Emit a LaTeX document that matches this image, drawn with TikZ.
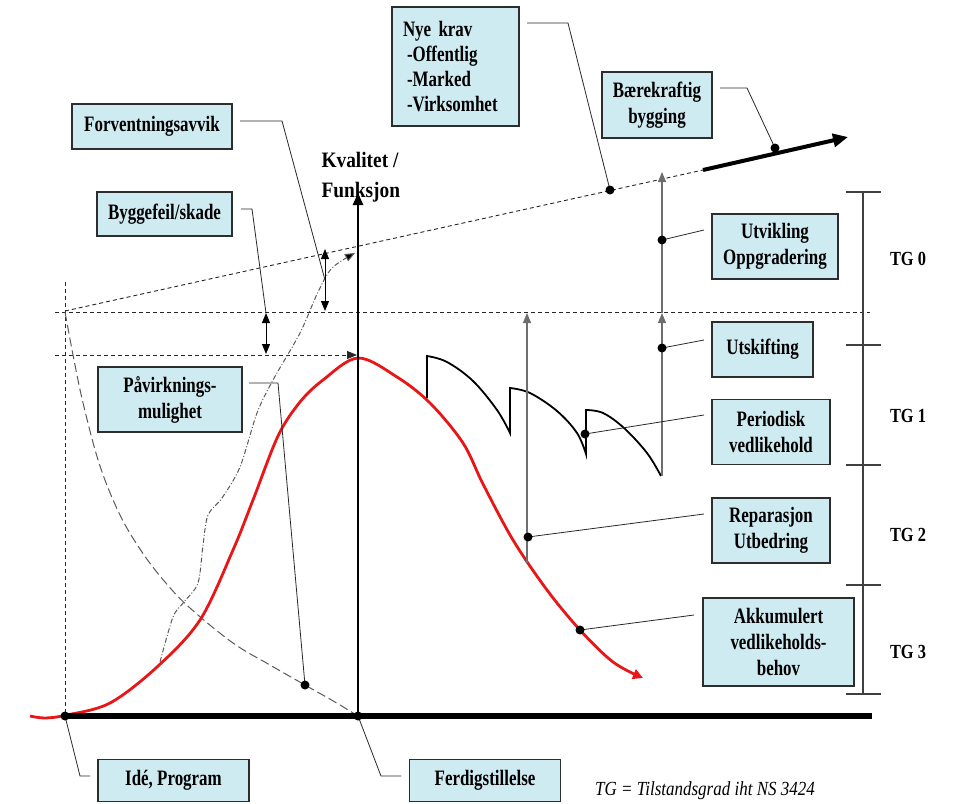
\documentclass[tikz,border=0pt]{standalone}
\usepackage{fontspec}
\setmainfont{Liberation Serif}
\newfontfamily\boxfont{Liberation Serif}[FakeStretch=0.77]
\newfontfamily\axisfont{Liberation Serif}[FakeStretch=0.88]
\newfontfamily\tgfont{Liberation Serif}[FakeStretch=0.82]
\newfontfamily\notefont{Liberation Serif}[FakeStretch=0.85]
\usetikzlibrary{arrows.meta}

\definecolor{boxfill}{RGB}{207,235,242}
\definecolor{boxline}{RGB}{45,45,45}
\definecolor{leadcol}{RGB}{40,40,40}
\definecolor{curvered}{RGB}{232,22,22}
\definecolor{greyline}{RGB}{110,110,110}
\definecolor{softgrey}{RGB}{90,90,90}

\tikzset{
  infobox/.style={draw=boxline, fill=boxfill, line width=1.1pt, align=center,
    inner sep=0pt, font=\boxfont\bfseries\fontsize{22}{26}\selectfont},
  leaderline/.style={draw=leadcol, line width=0.8pt},
  refdash/.style={draw=black!85, line width=0.9pt, dash pattern=on 4pt off 3pt},
  smalltip/.style={-{Triangle[length=10pt,width=8pt]}},
  bothtips/.style={{Triangle[length=10pt,width=8pt]}-{Triangle[length=10pt,width=8pt]}},
  riseline/.style={draw=greyline, line width=1.2pt, -{Triangle[length=10pt,width=8pt]}},
  tglabel/.style={font=\tgfont\bfseries\fontsize{20}{23}\selectfont},
  tgline/.style={draw=black!75, line width=1.1pt},
  sawline/.style={draw=black, line width=1.8pt, line join=miter},
}

\begin{document}
\begin{tikzpicture}[x=1pt,y=-1pt]
\useasboundingbox (0,0) rectangle (960,803);

% ---------- reference levels ----------
\coordinate (lvlA) at (55,312);
\coordinate (lvlAend) at (870,312);
\coordinate (lvlB) at (55,355);
\coordinate (lvlBend) at (357,355);
\coordinate (startTop) at (65,282);
\coordinate (origin) at (65,716);
\coordinate (handover) at (358,716);
\coordinate (trendstart) at (65,311);
\coordinate (trendend) at (703,170);
\coordinate (trendtip) at (848,137);

\draw[refdash] (lvlA) -- (lvlAend);
\draw[refdash, smalltip] (lvlB) -- (lvlBend);
\draw[refdash] (startTop) -- (origin);
\draw[refdash] (trendstart) -- (trendend);
\draw[line width=4pt, -{Triangle[length=15pt,width=13pt]}] (trendend) -- (trendtip);

% ---------- influence curve (long dashes) ----------
\draw[softgrey, line width=1pt, dash pattern=on 9pt off 4pt]
  plot[smooth, tension=0.6] coordinates {(65,312) (74,360) (84,407) (100,466) (120,515)
    (142,552) (165,582) (190,608) (233,643) (270,665) (305,685) (335,702) (358,716)};

% ---------- expectation curve (dash-dot) ----------
\draw[softgrey, line width=1pt, dash pattern=on 5pt off 2pt on 1pt off 2pt,
      -{Triangle[length=10pt,width=8pt,fill=black]}]
  plot[smooth, tension=0.5] coordinates {(160,662) (173,617) (184,602) (198,583)
    (203,545) (208,515) (222,498) (240,467) (257,413) (273,380) (300,333) (318,292)
    (332,268) (355,253)};

% ---------- main quality curve ----------
\draw[curvered, line width=2.8pt, -{Triangle[length=10pt,width=10pt]}]
  plot[smooth, tension=0.55] coordinates {(30,716) (45,718) (67,715) (110,703)
    (157,667) (200,620) (233,550) (253,500) (278,436) (300,402) (323,380) (358,358)
    (397,377) (430,403) (463,443) (483,484) (513,540) (547,590) (580,630) (613,662)
    (643,678)};

% ---------- periodic maintenance (sawtooth) ----------
\draw[sawline] (427,398) -- (427,356)
  -- plot[smooth, tension=0.6] coordinates {(427,356) (447,362) (473,381) (497,410) (510,433)}
  -- (510,388)
  -- plot[smooth, tension=0.6] coordinates {(510,388) (530,393) (557,411) (577,433) (586,454)}
  -- (586,410)
  -- plot[smooth, tension=0.6] coordinates {(586,410) (603,413) (624,428) (647,453) (661,476)};

% ---------- measures raising the level ----------
\coordinate (repBase) at (527,563);
\coordinate (repTop) at (527,313);
\coordinate (upBase) at (662,476);
\coordinate (upMid) at (662,313);
\coordinate (upTop) at (662,172);
\draw[riseline] (repBase) -- (repTop);
\draw[riseline] (upBase) -- (upMid);
\draw[riseline] (upMid) -- (upTop);

% ---------- deviation arrows ----------
\coordinate (errTop) at (266,313);
\coordinate (errBot) at (266,354);
\coordinate (devTop) at (325,249);
\coordinate (devBot) at (325,311);
\draw[line width=1pt, bothtips] (errTop) -- (errBot);
\draw[line width=1pt, bothtips] (devTop) -- (devBot);

% ---------- axes ----------
\node[font=\axisfont\bfseries\fontsize{22}{30}\selectfont, align=left, anchor=west]
  (axislabel) at (318,177) {Kvalitet /\\Funksjon};
\draw[line width=5.5pt] (origin) -- (872,716);
\draw[line width=2.6pt, -{Triangle[length=12pt,width=10pt]}] (handover) -- (358,193);

% ---------- condition grade scale ----------
\draw[tgline] (863,192) -- (863,694);
\foreach \yy in {192,345,465,585,694} \draw[tgline] (846,\yy) -- (881,\yy);
\node[tglabel] (tg0) at (908,259) {TG 0};
\node[tglabel] (tg1) at (908,416) {TG 1};
\node[tglabel] (tg2) at (908,535) {TG 2};
\node[tglabel] (tg3) at (908,652) {TG 3};

% ---------- text boxes ----------
\node[infobox, minimum width=160pt, minimum height=45pt] (forv) at (152,126.5) {Forventningsavvik};
\node[infobox, minimum width=135pt, minimum height=44pt] (bygg) at (164.5,214) {Byggefeil/skade};
\node[infobox, minimum width=144pt, minimum height=65pt] (pav) at (170,399.5) {Påvirknings-\\mulighet};
\node[infobox, align=left, text width=105pt, inner xsep=11pt, minimum height=119pt,
      font=\boxfont\bfseries\fontsize{22}{25}\selectfont] (nye) at (455.5,66.5)
  {Nye krav\\\hspace*{4pt}-Offentlig\\\hspace*{4pt}-Marked\\\hspace*{4pt}-Virksomhet};
\node[infobox, minimum width=110pt, minimum height=66pt] (baer) at (657,105) {Bærekraftig\\bygging};
\node[infobox, minimum width=126pt, minimum height=65pt] (utv) at (775,246.5) {Utvikling\\Oppgradering};
\node[infobox, minimum width=101pt, minimum height=55pt] (utsk) at (762.5,349.5) {Utskifting};
\node[infobox, minimum width=118pt, minimum height=65pt] (per) at (771,432) {Periodisk\\vedlikehold};
\node[infobox, minimum width=118pt, minimum height=65pt] (rep) at (771,530.5) {Reparasjon\\Utbedring};
\node[infobox, minimum width=151pt, minimum height=88pt] (akk) at (778.5,642) {Akkumulert\\vedlikeholds-\\behov};
\node[infobox, minimum width=151pt, minimum height=42pt] (ide) at (173.5,780.5) {Idé, Program};
\node[infobox, minimum width=151pt, minimum height=42pt] (ferd) at (485,780.5) {Ferdigstillelse};

\node[font=\notefont\itshape\fontsize{20}{24}\selectfont] (note) at (705,791)
  {TG = Tilstandsgrad iht NS 3424};

% ---------- leader lines and their points ----------
\coordinate (forvA) at (240,121);  \coordinate (forvB) at (282,121);  \coordinate (forvP) at (325,280);
\coordinate (byggA) at (241,209);  \coordinate (byggB) at (252,209);
\coordinate (pavA) at (249,383);   \coordinate (pavB) at (278,383);   \coordinate (pavP) at (305,685);
\coordinate (nyeA) at (527,23);    \coordinate (nyeB) at (568,23);    \coordinate (nyeP) at (610,190);
\coordinate (baerA) at (720,88);   \coordinate (baerB) at (747,88);   \coordinate (baerP) at (775,148);
\coordinate (utvA) at (704,230);   \coordinate (utvP) at (662,240);
\coordinate (utskA) at (704,340);  \coordinate (utskP) at (662,348);
\coordinate (perA) at (704,415);   \coordinate (perP) at (585,434);
\coordinate (repA) at (704,514);   \coordinate (repP) at (528,537);
\coordinate (akkA) at (694,615);   \coordinate (akkP) at (580,630);
\coordinate (ideB) at (80,776);    \coordinate (ideA) at (90,776);
\coordinate (ferdB) at (381,776);  \coordinate (ferdA) at (401,776);

\draw[leaderline] (forvA) -- (forvB) -- (forvP);
\draw[leaderline] (byggA) -- (byggB) -- (errTop);
\draw[leaderline] (pavA) -- (pavB) -- (pavP);
\draw[leaderline] (nyeA) -- (nyeB) -- (nyeP);
\draw[leaderline] (baerA) -- (baerB) -- (baerP);
\draw[leaderline] (utvA) -- (utvP);
\draw[leaderline] (utskA) -- (utskP);
\draw[leaderline] (perA) -- (perP);
\draw[leaderline] (repA) -- (repP);
\draw[leaderline] (akkA) -- (akkP);
\draw[leaderline] (origin) -- (ideB) -- (ideA);
\draw[leaderline] (handover) -- (ferdB) -- (ferdA);

\foreach \p in {pavP,nyeP,baerP,utvP,utskP,perP,repP,akkP,origin,handover}
  \fill (\p) circle (4.5pt);
\end{tikzpicture}
\end{document}
